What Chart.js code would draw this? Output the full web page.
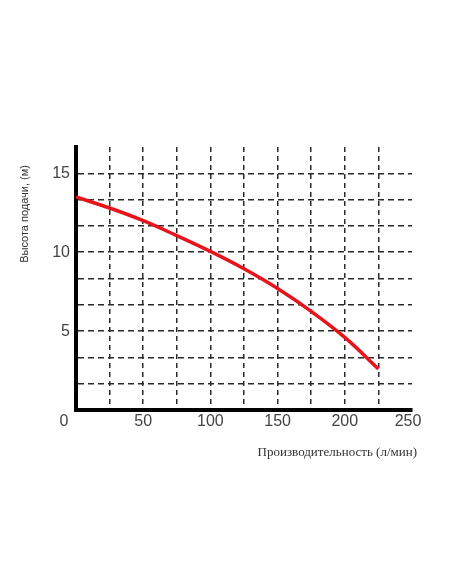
<!DOCTYPE html>
<html>
<head>
<meta charset="utf-8">
<script src="https://cdn.jsdelivr.net/npm/chart.js@4.4.0/dist/chart.umd.min.js"></script>
<style>
  html, body { margin: 0; padding: 0; background: #fff; }
  #wrap { width: 452px; height: 584px; position: relative; }
</style>
</head>
<body>
<div id="wrap"><canvas id="pumpChart"></canvas></div>
<script>
// Данные кривой насоса
const flowValues = [0, 25, 50, 75, 100, 125, 150, 175, 200, 225];
const headValues = [13.5, 12.8, 12.0, 11.05, 10.05, 8.95, 7.7, 6.25, 4.6, 2.6];

// Подписи осей
const xLabels = [0, 50, 100, 150, 200, 250];
const yLabels = [5, 10, 15];
const xGrid = [0, 25, 50, 75, 100, 125, 150, 175, 200, 225, 250];
const yGrid = [0, 5 / 3, 10 / 3, 5, 20 / 3, 25 / 3, 10, 35 / 3, 40 / 3, 15, 50 / 3];

const xTitle = 'Производительность (л/мин)';
const yTitle = 'Высота подачи, (м)';

// Подписи и заголовки рисуем сами, по шкалам графика
const labelsPlugin = {
    id: 'axisLabels',
    afterDraw(chart) {
        const { ctx, scales: { x, y } } = chart;
        ctx.save();
        ctx.fillStyle = '#444';
        ctx.font = '16px "Liberation Sans", Arial, sans-serif';

        ctx.textAlign = 'right';
        ctx.textBaseline = 'middle';
        yLabels.forEach(v => ctx.fillText(String(v), x.left - 6, y.getPixelForValue(v)));

        ctx.textAlign = 'center';
        xLabels.forEach((v, i) => {
            let px = x.getPixelForValue(v);
            if (i === 0) px -= 12;
            if (i === xLabels.length - 1) px -= 4;
            ctx.fillText(String(v), px, y.bottom + 12);
        });

        ctx.fillStyle = '#333';
        ctx.font = '13px "Liberation Serif", "Times New Roman", serif';
        ctx.textAlign = 'right';
        ctx.fillText(xTitle, x.right + 5, y.bottom + 43);

        ctx.translate(x.left - 51, y.top + 18);
        ctx.rotate(-Math.PI / 2);
        ctx.font = '11px "Liberation Sans Narrow", "Liberation Sans", Arial, sans-serif';
        ctx.textAlign = 'right';
        ctx.fillText(yTitle, 0, 0);
        ctx.restore();
    }
};

function initChart() {
    const ctx = document.getElementById('pumpChart').getContext('2d');

    new Chart(ctx, {
        type: 'line',
        data: {
            datasets: [{
                data: flowValues.map((q, i) => ({ x: q, y: headValues[i] })),
                borderColor: '#e8141c',
                borderWidth: 3.5,
                pointRadius: 0,
                fill: false,
                tension: 0.4
            }]
        },
        options: {
            responsive: true,
            maintainAspectRatio: false,
            animation: false,
            layout: {
                padding: { left: 76, top: 147, right: 40, bottom: 174 }
            },
            plugins: {
                legend: { display: false },
                tooltip: { enabled: false }
            },
            scales: {
                x: {
                    type: 'linear',
                    min: 0,
                    max: 250,
                    afterBuildTicks: s => { s.ticks = xGrid.map(v => ({ value: v })); },
                    ticks: { display: false },
                    grid: {
                        drawTicks: false,
                        lineWidth: 1.5,
                        color: c => (c.tick && (c.tick.value === 0 || c.tick.value === 250)) ? 'rgba(0,0,0,0)' : '#2a2a2a'
                    },
                    border: { display: true, color: '#000', width: 4, dash: [5, 4] }
                },
                y: {
                    min: 0,
                    max: 50 / 3,
                    afterBuildTicks: s => { s.ticks = yGrid.map(v => ({ value: v })); },
                    ticks: { display: false },
                    grid: {
                        drawTicks: false,
                        lineWidth: 1.5,
                        color: c => (c.tick && (c.index === 0 || c.index === yGrid.length - 1)) ? 'rgba(0,0,0,0)' : '#2a2a2a'
                    },
                    border: { display: true, color: '#000', width: 4, dash: [6, 4] }
                }
            }
        },
        plugins: [labelsPlugin]
    });
}

initChart();
</script>
</body>
</html>
